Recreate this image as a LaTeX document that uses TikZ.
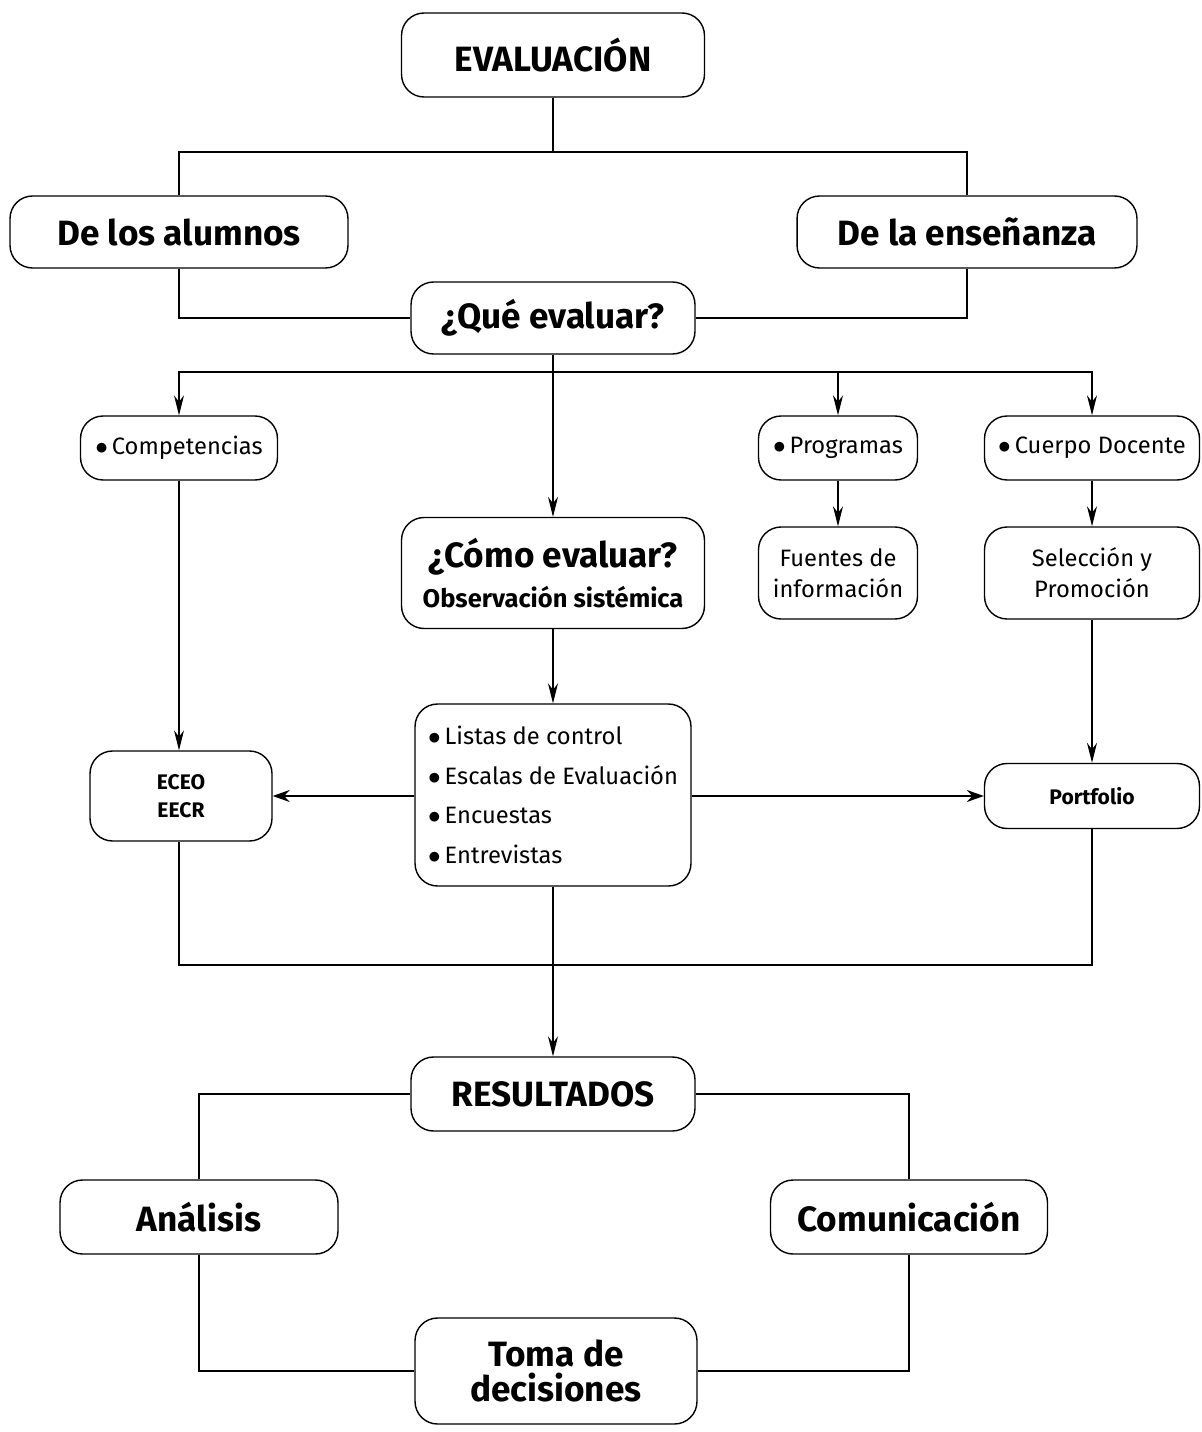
\documentclass[tikz,border=0pt]{standalone}
\usepackage{fontspec}
\setmainfont{Fira Sans}
\usetikzlibrary{arrows.meta, positioning}
\newcommand{\itemdot}{$\bullet$\,}

\begin{document}
\begin{tikzpicture}[
    x=0.02cm, y=-0.02cm,
    box/.style={rectangle, rounded corners=0.45cm, draw, line width=0.8pt, align=center, inner sep=0pt},
    bigbox/.style={box, font=\bfseries\fontsize{20}{20}\selectfont},
    smallbox/.style={box, font=\fontsize{13.5}{17.5}\selectfont},
    tagbox/.style={box, font=\bfseries\fontsize{12}{16}\selectfont},
    link/.style={line width=0.6pt},
    arrow/.style={link, -{Stealth[length=0.4cm, width=0.2cm]}},
    sidearrow/.style={line width=0.8pt, -{Stealth[length=0.34cm, width=0.24cm]}}
]
\useasboundingbox (0,0) rectangle (1202,1432);

% Top level
\node[bigbox, minimum width=6.06cm, minimum height=1.68cm] (eval) at (553,55) {EVALUACIÓN};
\node[bigbox, minimum width=6.76cm, minimum height=1.44cm] (alumnos) at (179,232) {De los alumnos};
\node[bigbox, minimum width=6.8cm, minimum height=1.44cm] (ensenanza) at (967,232) {De la enseñanza};
\node[bigbox, minimum width=5.68cm, minimum height=1.44cm] (que) at (553,318) {¿Qué evaluar?};

% What to evaluate
\node[smallbox, minimum width=3.94cm, minimum height=1.28cm] (compet) at (179,448) {\itemdot Competencias};
\node[smallbox, minimum width=3.18cm, minimum height=1.28cm] (progr) at (838,448) {\itemdot Programas};
\node[smallbox, minimum width=4.3cm, minimum height=1.28cm] (cuerpo) at (1092,448) {\itemdot Cuerpo Docente};
\node[box, minimum width=6.06cm, minimum height=2.22cm, font=\bfseries\fontsize{20}{23}\selectfont] (como) at (553,573)
    {¿Cómo evaluar?\\{\fontsize{14.5}{23}\selectfont Observación sistémica}};
\node[smallbox, minimum width=3.18cm, minimum height=1.84cm] (fuentes) at (838,573) {Fuentes de\\información};
\node[smallbox, minimum width=4.3cm, minimum height=1.84cm] (seleccion) at (1092,573) {Selección y\\Promoción};

% Instruments
\node[tagbox, minimum width=3.64cm, minimum height=1.8cm] (eceo) at (181,796) {ECEO\\EECR};
\node[box, align=left, minimum width=5.52cm, minimum height=3.64cm, font=\fontsize{13.5}{22.5}\selectfont] (listas) at (553,795)
    {\itemdot Listas de control\\\itemdot Escalas de Evaluación\\\itemdot Encuestas\\\itemdot Entrevistas};
\node[tagbox, minimum width=4.3cm, minimum height=1.3cm] (portfolio) at (1092,796) {Portfolio};

% Results
\node[bigbox, minimum width=5.68cm, minimum height=1.48cm] (resultados) at (553,1094) {RESULTADOS};
\node[bigbox, minimum width=5.56cm, minimum height=1.48cm] (analisis) at (199,1217) {Análisis};
\node[bigbox, minimum width=5.54cm, minimum height=1.48cm] (comunic) at (909,1217) {Comunicación};
\node[bigbox, minimum width=5.64cm, minimum height=2.12cm] (toma) at (556,1371) {Toma de\\decisiones};

% Junctions
\coordinate (split) at (553,152);
\coordinate (qsplit) at (553,372);
\coordinate (join) at (553,965);

% Connectors
\draw[link] (eval.south) -- (split);
\draw[link] (alumnos.north) |- (split) -| (ensenanza.north);
\draw[link] (alumnos.south) |- (que.west);
\draw[link] (ensenanza.south) |- (que.east);
\draw[link] (que.south) -- (qsplit);
\draw[arrow] (qsplit) -| (compet.north);
\draw[arrow] (qsplit) -| (progr.north);
\draw[arrow] (qsplit) -| (cuerpo.north);
\draw[arrow] (qsplit) -- (como.north);
\draw[arrow] (progr) -- (fuentes);
\draw[arrow] (cuerpo) -- (seleccion);
\draw[arrow] (compet) -- (compet |- eceo.north);
\draw[arrow] (como) -- (listas);
\draw[arrow] (seleccion) -- (portfolio);
\draw[sidearrow] (listas.west |- eceo) -- (eceo.east);
\draw[sidearrow] (listas.east |- portfolio) -- (portfolio.west);
\draw[link] (eceo.south -| compet) |- (join) -| (portfolio.south);
\draw[arrow] (listas.south) -- (resultados.north);
\draw[link] (resultados.west) -| (analisis.north);
\draw[link] (resultados.east) -| (comunic.north);
\draw[link] (analisis.south) |- (toma.west);
\draw[link] (comunic.south) |- (toma.east);
\end{tikzpicture}
\end{document}
